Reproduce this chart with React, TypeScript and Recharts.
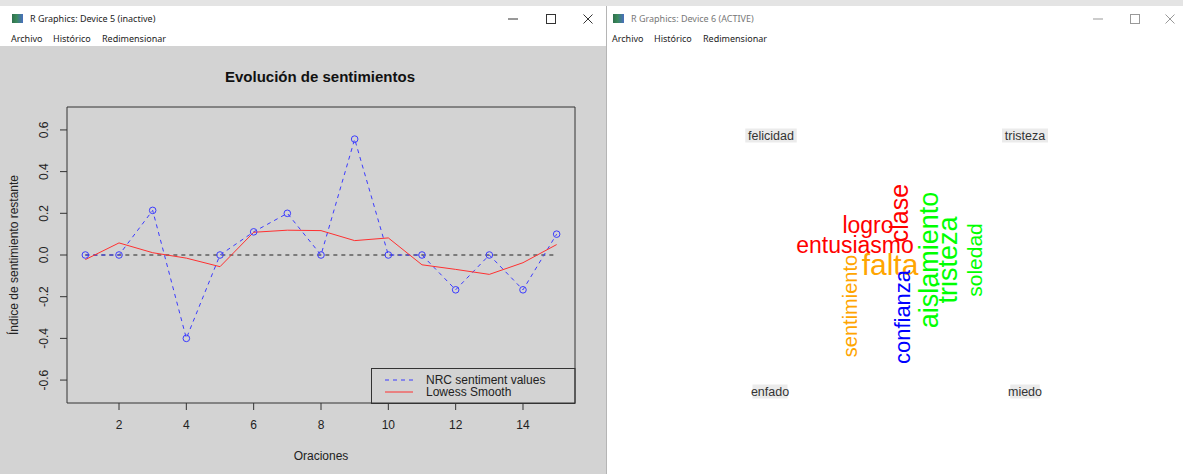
import React from 'react';
import {
  LineChart,
  Line,
  XAxis,
  YAxis,
  ReferenceArea,
  ReferenceLine,
  ScatterChart,
  Scatter,
} from 'recharts';

// ---------- Left chart data ----------
const oraciones = [1, 2, 3, 4, 5, 6, 7, 8, 9, 10, 11, 12, 13, 14, 15];
const nrcValues = [0, 0, 0.214, -0.4, 0, 0.111, 0.2, 0, 0.556, 0, 0, -0.167, 0, -0.167, 0.1];
const lowessValues = [-0.022, 0.058, 0.011, -0.015, -0.056, 0.109, 0.119, 0.117, 0.069, 0.082, -0.047, -0.069, -0.093, -0.037, 0.05];
const xTicks = [2, 4, 6, 8, 10, 12, 14];
const yTicks = [-0.6, -0.4, -0.2, 0, 0.2, 0.4, 0.6];
const legendLabels = ['NRC sentiment values', 'Lowess Smooth'];

// ---------- Right word cloud data ----------
const cloudWords = ['logro', 'entusiasmo', 'falta', 'clase', 'sentimiento', 'confianza', 'aislamiento', 'tristeza', 'soledad'];
const cloudColors = ['#ff0000', '#ff0000', '#ffa500', '#ff0000', '#ffa500', '#0000ff', '#00ff00', '#00ff00', '#00ff00'];
const cloudX = [868, 855, 890, 908, 857, 910, 938, 957, 982];
const cloudY = [233, 253, 275, 213, 306, 317, 260, 260, 260];
const cloudSize = [23, 23, 30, 25, 20, 22, 27, 27, 21];
const cloudRotated = [false, false, false, true, true, true, true, true, true];
const groupLabels = ['felicidad', 'tristeza', 'enfado', 'miedo'];
const groupX = [771, 1025, 770, 1025];
const groupY = [136, 136, 392, 392];

const lineData = oraciones.map((x, i) => ({ x, nrc: nrcValues[i], lowess: lowessValues[i] }));
const cloudData = cloudWords.map((w, i) => ({
  x: cloudX[i], y: cloudY[i], word: w, color: cloudColors[i], size: cloudSize[i], rot: cloudRotated[i],
}));
const labelData = groupLabels.map((w, i) => ({ x: groupX[i], y: groupY[i], word: w }));

const RFONT = '"Liberation Sans", Arial, sans-serif';
const UIFONT = '"Noto Sans", "Open Sans", sans-serif';

const XTick = (props: any) => {
  const { x, payload } = props;
  return (
    <text x={x} y={379} textAnchor="middle" dominantBaseline="central" fontFamily={RFONT} fontSize={12} fill="#222">
      {payload.value}
    </text>
  );
};

const YTick = (props: any) => {
  const { y, payload } = props;
  return (
    <text x={44} y={y} transform={`rotate(-90 44 ${y})`} textAnchor="middle" dominantBaseline="central" fontFamily={RFONT} fontSize={12} fill="#222">
      {Number(payload.value).toFixed(1)}
    </text>
  );
};

const Dot = (props: any) => {
  const { cx, cy } = props;
  return <circle cx={cx} cy={cy} r={3.3} fill="none" stroke="#3b3bff" strokeWidth={1} />;
};

const WordShape = (props: any) => {
  const { cx, cy, payload } = props;
  if (payload.rot) {
    return (
      <text x={cx} y={cy} transform={`rotate(-90 ${cx} ${cy})`} textAnchor="middle" fontFamily={RFONT} fontSize={payload.size} fill={payload.color}>
        {payload.word}
      </text>
    );
  }
  return (
    <text x={cx} y={cy} textAnchor="middle" fontFamily={RFONT} fontSize={payload.size} fill={payload.color}>
      {payload.word}
    </text>
  );
};

const LabelShape = (props: any) => {
  const { cx, cy, payload } = props;
  const w = payload.word.length * 5.5 + 2;
  return (
    <g>
      <rect x={cx - w / 2} y={cy - 7.5} width={w} height={14} fill="#ebebeb" />
      <text x={cx} y={cy} textAnchor="middle" dominantBaseline="central" fontFamily={RFONT} fontSize={12.5} fill="#333">
        {payload.word}
      </text>
    </g>
  );
};

const Controls = ({ xs, color }: { xs: number[]; color: string }) => (
  <svg style={{ position: 'absolute', left: 0, top: 0 }} width={1183} height={30}>
    <line x1={xs[0] - 5} x2={xs[0] + 5} y1={19} y2={19} stroke={color} strokeWidth={1} />
    <rect x={xs[1] - 4.5} y={14.5} width={9} height={9} fill="none" stroke={color} strokeWidth={1} />
    <line x1={xs[2] - 4.5} x2={xs[2] + 4.5} y1={14.5} y2={23.5} stroke={color} strokeWidth={1} />
    <line x1={xs[2] - 4.5} x2={xs[2] + 4.5} y1={23.5} y2={14.5} stroke={color} strokeWidth={1} />
  </svg>
);

const Chrome = ({ left, width, title, titleColor, ctrl, ctrlColor, bg, off }: any) => (
  <div style={{ position: 'absolute', left, top: 6, width, height: 468, background: '#fff', overflow: 'hidden' }}>
    <div style={{ position: 'absolute', left: 12 + off, top: 8, width: 11, height: 9, background: 'linear-gradient(90deg,#2f6f4f 0%,#3a8a5a 40%,#4a6fc0 100%)' }} />
    <div style={{ position: 'absolute', left: 30 + off, top: 6, fontFamily: UIFONT, fontSize: 9, color: titleColor, whiteSpace: 'nowrap' }}>{title}</div>
    <div style={{ position: 'absolute', left: 11 + off, top: 26, fontFamily: UIFONT, fontSize: 9, color: '#222', whiteSpace: 'nowrap' }}>Archivo</div>
    <div style={{ position: 'absolute', left: 53 + off, top: 26, fontFamily: UIFONT, fontSize: 9, color: '#222', whiteSpace: 'nowrap' }}>Histórico</div>
    <div style={{ position: 'absolute', left: 102 + off, top: 26, fontFamily: UIFONT, fontSize: 9, color: '#222', whiteSpace: 'nowrap' }}>Redimensionar</div>
    <div style={{ position: 'absolute', left: 0, top: 40, width, height: 428, background: bg }} />
    <div style={{ position: 'absolute', left: -left, top: -6 }}>
      <Controls xs={ctrl} color={ctrlColor} />
    </div>
  </div>
);

export default function App() {
  return (
    <div style={{ position: 'fixed', left: 0, top: 0, width: 1183, height: 474, background: '#e4e4e4', overflow: 'hidden' }}>
      <Chrome left={0} width={606} off={0} title="R Graphics: Device 5 (inactive)" titleColor="#222" ctrl={[513, 551, 588]} ctrlColor="#333" bg="#d3d3d3" />
      <Chrome left={607} width={576} off={-6} title="R Graphics: Device 6 (ACTIVE)" titleColor="#777" ctrl={[1098, 1135, 1170]} ctrlColor="#999" bg="#ffffff" />
      <div style={{ position: 'absolute', left: 606, top: 6, width: 1, height: 468, background: '#b5b5b5' }} />

      {/* Left chart */}
      <div style={{ position: 'absolute', left: 0, top: 46, width: 606, height: 428 }}>
        <LineChart width={606} height={428} data={lineData} margin={{ top: 61, right: 31, bottom: 0, left: 7 }}>
          <XAxis
            dataKey="x"
            type="number"
            domain={[0.455, 15.545]}
            ticks={xTicks}
            interval={0}
            height={71}
            axisLine={false}
            tickLine={{ stroke: '#333' }}
            tickSize={7}
            tick={<XTick />}
            allowDataOverflow
          />
          <YAxis
            type="number"
            domain={[-0.71, 0.71]}
            ticks={yTicks}
            interval={0}
            width={60}
            axisLine={false}
            tickLine={{ stroke: '#333' }}
            tickSize={7}
            tick={<YTick />}
            allowDataOverflow
          />
          <ReferenceArea x1={0.455} x2={15.545} y1={-0.71} y2={0.71} fill="none" stroke="#333" strokeWidth={1} ifOverflow="visible" />
          <ReferenceLine segment={[{ x: 1, y: 0 }, { x: 15, y: 0 }]} stroke="#222" strokeDasharray="4 4" strokeWidth={1} />
          <Line type="linear" dataKey="nrc" stroke="#3b3bff" strokeWidth={1} strokeDasharray="4 4" dot={<Dot />} isAnimationActive={false} />
          <Line type="linear" dataKey="lowess" stroke="#ff3030" strokeWidth={1} dot={false} isAnimationActive={false} />
        </LineChart>
        <svg style={{ position: 'absolute', left: 0, top: 0, pointerEvents: 'none' }} width={606} height={428}>
          <text x={320} y={36} textAnchor="middle" fontFamily={RFONT} fontSize={15} fontWeight="bold" fill="#111">Evolución de sentimientos</text>
          <text x={321} y={410} textAnchor="middle" dominantBaseline="central" fontFamily={RFONT} fontSize={12} fill="#222">Oraciones</text>
          <text x={14} y={209} transform="rotate(-90 14 209)" textAnchor="middle" dominantBaseline="central" fontFamily={RFONT} fontSize={12} fill="#222">Índice de sentimiento restante</text>
          <g>
            <rect x={371.5} y={322.5} width={203.5} height={35} fill="none" stroke="#333" strokeWidth={1} />
            <line x1={385} x2={413} y1={334} y2={334} stroke="#3b3bff" strokeDasharray="4 4" strokeWidth={1} />
            <line x1={385} x2={413} y1={346} y2={346} stroke="#ff3030" strokeWidth={1} />
            <text x={426} y={334} dominantBaseline="central" fontFamily={RFONT} fontSize={12} fill="#222">{legendLabels[0]}</text>
            <text x={426} y={346} dominantBaseline="central" fontFamily={RFONT} fontSize={12} fill="#222">{legendLabels[1]}</text>
          </g>
        </svg>
      </div>

      {/* Right word cloud */}
      <div style={{ position: 'absolute', left: 607, top: 46, width: 576, height: 428 }}>
        <ScatterChart width={576} height={428} margin={{ top: 0, right: 0, bottom: 0, left: 0 }}>
          <XAxis dataKey="x" type="number" domain={[607, 1183]} hide allowDataOverflow />
          <YAxis dataKey="y" type="number" domain={[46, 474]} reversed hide allowDataOverflow />
          <Scatter data={labelData} shape={<LabelShape />} isAnimationActive={false} />
          <Scatter data={cloudData} shape={<WordShape />} isAnimationActive={false} />
        </ScatterChart>
      </div>
    </div>
  );
}
